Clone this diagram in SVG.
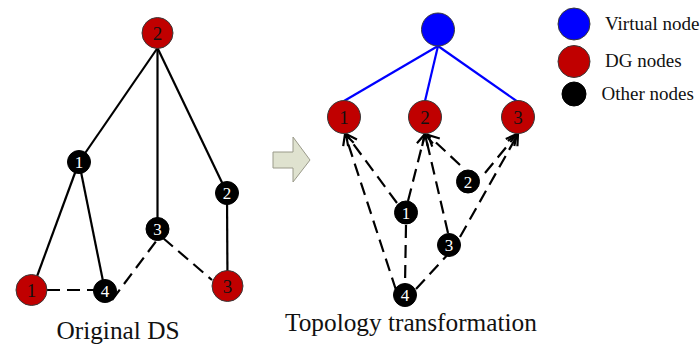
<svg xmlns="http://www.w3.org/2000/svg" width="700" height="344" viewBox="0 0 700 344">
<style>
  .dg{fill:#c00000;stroke:#3a3a3a;stroke-width:1}
  .oth{fill:#000;stroke:#000;stroke-width:1}
  .vir{fill:#0000ff;stroke:#3a3a3a;stroke-width:1}
  .lr{font-family:"Liberation Serif","Times New Roman",serif;font-size:19px;fill:#111;text-anchor:middle}
  .lw{font-family:"Liberation Serif","Times New Roman",serif;font-size:17px;fill:#fff;text-anchor:middle}
  .cap{font-family:"Liberation Serif","Times New Roman",serif;font-size:25.3px;fill:#111}
  .leg{font-family:"Liberation Serif","Times New Roman",serif;font-size:19px;fill:#111}
  .solid{stroke:#000;stroke-width:2.2;fill:none}
  .dash{stroke:#000;stroke-width:2.2;fill:none;stroke-dasharray:13 7}
  .blue{stroke:#0000ff;stroke-width:2.2;fill:none}
</style>
<defs>
  <marker id="ah" markerUnits="userSpaceOnUse" markerWidth="16" markerHeight="16" viewBox="-13 -8 16 16" refX="0" refY="0" orient="auto">
    <path d="M-11,-5.5 L0,0 L-11,5.5" fill="none" stroke="#000" stroke-width="2.2"/>
  </marker>
</defs>
<rect width="700" height="344" fill="#fff"/>

<g id="connectors">
  <line class="solid" x1="157.5" y1="48" x2="79" y2="162"/>
  <line class="solid" x1="157.5" y1="48" x2="157.5" y2="229"/>
  <line class="solid" x1="157.5" y1="48" x2="227" y2="193"/>
  <line class="solid" x1="79" y1="162" x2="32" y2="290"/>
  <line class="solid" x1="79" y1="162" x2="105" y2="291"/>
  <line class="solid" x1="227" y1="193" x2="227.5" y2="286"/>
  <line class="dash" x1="47" y1="290" x2="95" y2="290"/>
  <line class="dash" x1="112" y1="300" x2="157" y2="240"/>
  <line class="dash" x1="163" y1="238" x2="212" y2="280"/>
  <line class="blue" x1="438" y1="46" x2="344" y2="101"/>
  <line class="blue" x1="438" y1="46" x2="425" y2="101"/>
  <line class="blue" x1="438" y1="46" x2="518" y2="102"/>
  <line class="dash" marker-end="url(#ah)" x1="397" y1="203" x2="346" y2="134"/>
  <line class="dash" marker-end="url(#ah)" x1="396" y1="290" x2="345" y2="134"/>
  <line class="dash" marker-end="url(#ah)" x1="408" y1="201" x2="425" y2="134"/>
  <line class="dash" marker-end="url(#ah)" x1="448" y1="233" x2="425" y2="134"/>
  <line class="dash" marker-end="url(#ah)" x1="460" y1="165" x2="428" y2="135"/>
  <line class="dash" marker-end="url(#ah)" x1="485" y1="173" x2="517" y2="134"/>
  <line class="dash" marker-end="url(#ah)" x1="460" y1="237" x2="518" y2="134"/>
  <line class="dash" x1="406" y1="225" x2="405" y2="285"/>
  <line class="dash" x1="416" y1="289" x2="452" y2="250"/>
</g>

<g id="arrow">
  <polygon points="273,152 293,152 293,137 310,160 293,182 293,168 273,168" fill="#dfe2cf" stroke="#9a9a8a" stroke-width="1"/>
</g>

<g id="L-dg2"><circle class="dg" cx="157.5" cy="33" r="15.5"/><text class="lr" x="157.5" y="39.5">2</text></g>
<g id="L-o1"><circle class="oth" cx="79" cy="162" r="11.5"/><text class="lw" x="79" y="168">1</text></g>
<g id="L-o3"><circle class="oth" cx="157.5" cy="229" r="11.5"/><text class="lw" x="157.5" y="235">3</text></g>
<g id="L-o2"><circle class="oth" cx="227" cy="193" r="11.5"/><text class="lw" x="227" y="199">2</text></g>
<g id="L-dg1"><circle class="dg" cx="31.5" cy="290" r="15.5"/><text class="lr" x="31.5" y="296.5">1</text></g>
<g id="L-o4"><circle class="oth" cx="105" cy="291" r="11.5"/><text class="lw" x="105" y="297">4</text></g>
<g id="L-dg3"><circle class="dg" cx="227.5" cy="286" r="15.5"/><text class="lr" x="227.5" y="292.5">3</text></g>

<g id="R-virtual"><circle class="vir" cx="438" cy="29.5" r="16.5"/></g>
<g id="R-dg1"><circle class="dg" cx="344" cy="117" r="16.5"/><text class="lr" x="344" y="123.5">1</text></g>
<g id="R-dg2"><circle class="dg" cx="425" cy="117" r="16.5"/><text class="lr" x="425" y="123.5">2</text></g>
<g id="R-dg3"><circle class="dg" cx="518" cy="117" r="16.5"/><text class="lr" x="518" y="123.5">3</text></g>
<g id="R-o2"><circle class="oth" cx="468" cy="181.5" r="11.5"/><text class="lw" x="468" y="187.5">2</text></g>
<g id="R-o1"><circle class="oth" cx="406" cy="212.5" r="11.5"/><text class="lw" x="406" y="218.5">1</text></g>
<g id="R-o3"><circle class="oth" cx="449" cy="245" r="11.5"/><text class="lw" x="449" y="251">3</text></g>
<g id="R-o4"><circle class="oth" cx="405" cy="295" r="11.5"/><text class="lw" x="405" y="301">4</text></g>

<g id="legend">
  <circle class="vir" cx="574" cy="24" r="16"/>
  <text class="leg" x="605" y="29.5">Virtual node</text>
  <circle class="dg" cx="574" cy="61.5" r="16"/>
  <text class="leg" x="605" y="67">DG nodes</text>
  <circle class="oth" cx="574" cy="94" r="12"/>
  <text class="leg" x="601.5" y="99.5">Other nodes</text>
</g>

<text class="cap" x="56.5" y="339">Original DS</text>
<text class="cap" x="285" y="331">Topology transformation</text>
</svg>
